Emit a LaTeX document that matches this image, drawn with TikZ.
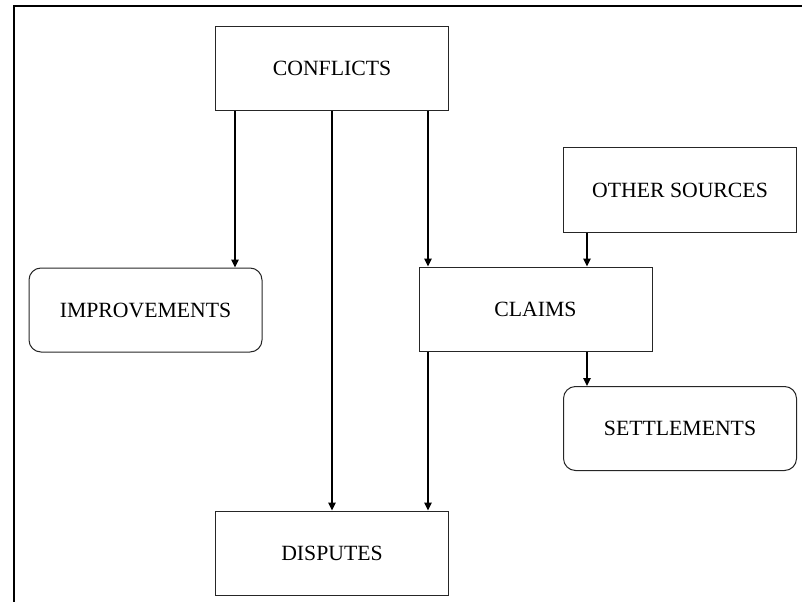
\documentclass[tikz,border=0pt]{standalone}
\usepackage{fontspec}
\setmainfont{Liberation Serif}
\usetikzlibrary{arrows.meta}
\begin{document}
\begin{tikzpicture}[x=0.75pt,y=-0.75pt,
  box/.style={draw=black!85,line width=0.75pt,rectangle,minimum width=174.75pt,
    minimum height=63pt,inner sep=0pt,font=\fontsize{16.3pt}{19pt}\selectfont},
  rbox/.style={box,rounded corners=9pt},
  arr/.style={line width=1.5pt,-{Triangle[length=6pt,width=5.5pt]}}]
\useasboundingbox (0,0) rectangle (802,602);
\clip (0,0) rectangle (802,602);
% outer frame (runs past the right and bottom edges)
\draw[line width=1.5pt] (14,620) -- (14,6.5) -- (820,6.5);
% boxes
\node[box]  (conf)   at (332,68.5)  {CONFLICTS};
\node[rbox] (impr)   at (145.5,310) {IMPROVEMENTS};
\node[box]  (claims) at (535.5,309) {CLAIMS};
\node[box]  (other)  at (680,190)   {OTHER SOURCES};
\node[rbox] (settle) at (680,428.5) {SETTLEMENTS};
\node[box]  (disp)   at (332,553)   {DISPUTES};
% arrow columns
\coordinate (c1) at (235,0);
\coordinate (c2) at (332,0);
\coordinate (c3) at (428,0);
\coordinate (c4) at (587,0);
% connectors
\draw[arr] (conf.south -| c1) -- (impr.north -| c1);
\draw[arr] (conf.south -| c2) -- (disp.north -| c2);
\draw[arr] (conf.south -| c3) -- (claims.north -| c3);
\draw[arr] (other.south -| c4) -- (claims.north -| c4);
\draw[arr] (claims.south -| c3) -- (disp.north -| c3);
\draw[arr] (claims.south -| c4) -- (settle.north -| c4);
\end{tikzpicture}
\end{document}
